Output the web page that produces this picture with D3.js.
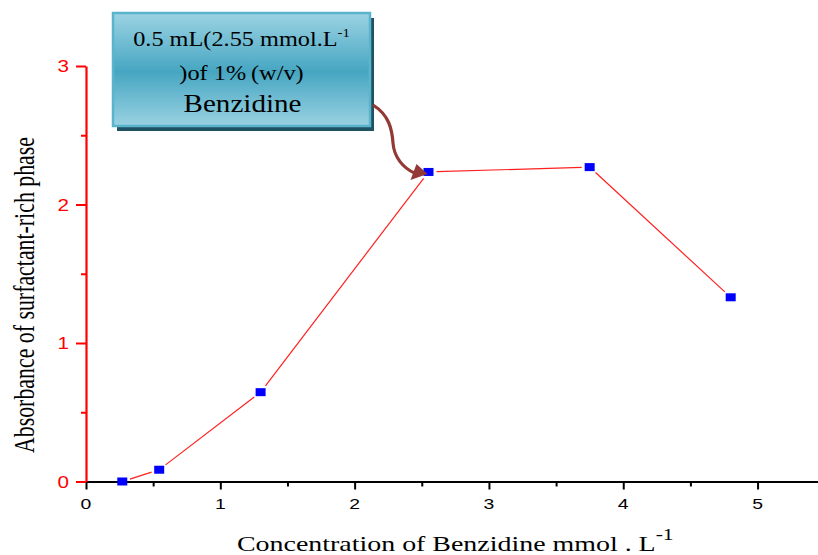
<!DOCTYPE html>
<html>
<head>
<meta charset="utf-8">
<script src="https://cdn.jsdelivr.net/npm/d3@7"></script>
<style>
  html, body { margin: 0; padding: 0; background: #fff; }
  svg { display: block; }
</style>
</head>
<body>
<svg id="chart" width="818" height="555"></svg>
<script>
// Benzidine concentration (mmol/L) vs. absorbance of the surfactant-rich phase
const concentration = [0.27, 0.545, 1.30, 2.55, 3.75, 4.80];
const absorbance    = [0.00, 0.085, 0.645, 2.235, 2.27, 1.33];
const xTicks = [0, 1, 2, 3, 4, 5];
const xMinorTicks = [0.5, 1.5, 2.5, 3.5, 4.5];
const yTicks = [0, 1, 2, 3];
const yMinorTicks = [0.5, 1.5, 2.5];
const calloutLines = ["0.5 mL(2.55 mmol.L", ")of 1%\u2009(w/v)", "Benzidine"];
const highlightIndex = 3;

const svg = d3.select("#chart");
const x = d3.scaleLinear().domain([0, 5.45]).range([86, 818]);
const y = d3.scaleLinear().domain([0, 3]).range([481.5, 66]);

const serif = "'Liberation Serif', 'Times New Roman', serif";
const sans = "'Liberation Sans', Arial, sans-serif";
const stretch = 1.25;

// ---- x axis ----
const gx = svg.append("g").attr("transform", `translate(0,${y(0)})`);
gx.call(d3.axisBottom(x).tickValues(xTicks).tickSize(8).tickSizeOuter(0).tickFormat(""));
gx.call(g => g.select(".domain").attr("stroke", "#000").attr("stroke-width", 2));
gx.selectAll(".tick line").attr("stroke", "#000").attr("stroke-width", 2);
const gxm = svg.append("g").attr("transform", `translate(0,${y(0)})`);
gxm.call(d3.axisBottom(x).tickValues(xMinorTicks).tickSize(5).tickSizeOuter(0).tickFormat(""));
gxm.select(".domain").remove();
gxm.selectAll(".tick line").attr("stroke", "#000").attr("stroke-width", 2);

svg.append("g").selectAll("text").data(xTicks).join("text")
  .attr("transform", d => `translate(${x(d)},${y(0) + 27}) scale(${stretch},1)`)
  .attr("text-anchor", "middle")
  .attr("font-family", sans).attr("font-size", 15.5).attr("fill", "#000")
  .text(d => d);

// ---- y axis ----
const gy = svg.append("g").attr("transform", `translate(${x(0)},0)`);
gy.call(d3.axisLeft(y).tickValues(yTicks).tickSize(10).tickSizeOuter(0).tickFormat(""));
gy.select(".domain").attr("stroke", "#ff0000").attr("stroke-width", 2.2);
gy.selectAll(".tick line").attr("stroke", "#ff0000").attr("stroke-width", 2);
const gym = svg.append("g").attr("transform", `translate(${x(0)},0)`);
gym.call(d3.axisLeft(y).tickValues(yMinorTicks).tickSize(5).tickSizeOuter(0).tickFormat(""));
gym.select(".domain").remove();
gym.selectAll(".tick line").attr("stroke", "#ff0000").attr("stroke-width", 2);

svg.append("g").selectAll("text").data(yTicks).join("text")
  .attr("transform", d => `translate(${x(0) - 17},${y(d) + 6}) scale(${stretch},1)`)
  .attr("text-anchor", "end")
  .attr("font-family", sans).attr("font-size", 16.5).attr("fill", "#ff0000")
  .text(d => d);

// ---- axis titles ----
const xt = svg.append("text")
  .attr("transform", `translate(237,551) scale(1.27,1)`)
  .attr("font-family", serif).attr("font-size", 22).attr("fill", "#000");
xt.append("tspan").text("Concentration of Benzidine mmol . L");
xt.append("tspan").attr("font-size", 17).attr("dy", -11).text("-1");

svg.append("text")
  .attr("transform", `translate(34,295) scale(1.3,1) rotate(-90)`)
  .attr("text-anchor", "middle")
  .attr("font-family", serif).attr("font-size", 22).attr("fill", "#000")
  .attr("textLength", 316).attr("lengthAdjust", "spacingAndGlyphs")
  .text("Absorbance of surfactant-rich phase");

// ---- data line (segments stop short of the markers) ----
const pts = concentration.map((c, i) => [x(c), y(absorbance[i])]);
const gap = 8;
const segs = d3.pairs(pts).map(([a, b]) => {
  const dx = b[0] - a[0], dy = b[1] - a[1];
  const len = Math.hypot(dx, dy);
  const ux = dx / len, uy = dy / len;
  return [[a[0] + ux * gap, a[1] + uy * gap], [b[0] - ux * gap, b[1] - uy * gap]];
});
svg.append("g").selectAll("line").data(segs).join("line")
  .attr("x1", d => d[0][0]).attr("y1", d => d[0][1])
  .attr("x2", d => d[1][0]).attr("y2", d => d[1][1])
  .attr("stroke", "#ff2020").attr("stroke-width", 1.2);

svg.append("g").selectAll("rect").data(pts).join("rect")
  .attr("x", d => d[0] - 5).attr("y", d => d[1] - 4)
  .attr("width", 10).attr("height", 8)
  .attr("fill", "#0000ff");

// ---- callout box ----
const defs = svg.append("defs");
const grad = defs.append("linearGradient").attr("id", "boxFill")
  .attr("x1", 0).attr("y1", 0).attr("x2", 0).attr("y2", 1);
grad.append("stop").attr("offset", "0%").attr("stop-color", "#9cd3e3");
grad.append("stop").attr("offset", "52%").attr("stop-color", "#46a6c2");
grad.append("stop").attr("offset", "100%").attr("stop-color", "#9ad2e2");

const bx = 113, by = 13, bw = 257, bh = 113;
svg.append("rect").attr("x", bx + 4).attr("y", by + 5).attr("width", bw).attr("height", bh)
  .attr("fill", "#1f5263");
svg.append("rect").attr("x", bx).attr("y", by).attr("width", bw).attr("height", bh)
  .attr("fill", "url(#boxFill)").attr("stroke", "#5ab5cc").attr("stroke-width", 2.5);

const bcx = bx + bw / 2;
const l1 = svg.append("text")
  .attr("transform", `translate(${bcx},46) scale(1.13,1)`)
  .attr("text-anchor", "middle")
  .attr("font-family", serif).attr("font-size", 21.5).attr("fill", "#000");
l1.append("tspan").text(calloutLines[0]);
l1.append("tspan").attr("font-size", 13).attr("dy", -9).text("-1");

svg.append("text")
  .attr("transform", `translate(${bcx},80) scale(1.13,1)`)
  .attr("text-anchor", "middle")
  .attr("font-family", serif).attr("font-size", 21.5).attr("fill", "#000")
  .text(calloutLines[1]);

svg.append("text")
  .attr("transform", `translate(${bcx + 1},112) scale(1.12,1)`)
  .attr("text-anchor", "middle")
  .attr("font-family", serif).attr("font-size", 26).attr("fill", "#000")
  .text(calloutLines[2]);

// ---- curved arrow to the highlighted point ----
const [hx, hy] = pts[highlightIndex];
const arrowColor = "#933a36";
const sx = bx + bw + 3, sy = by + 92;
svg.append("path")
  .attr("d", `M${sx},${sy} C${sx + 16},${sy + 10} ${sx + 19},${sy + 24} ${sx + 20},${sy + 38} C${sx + 21},${sy + 52} ${sx + 30},${hy - 4} ${hx - 14},${hy + 1}`)
  .attr("fill", "none").attr("stroke", arrowColor).attr("stroke-width", 3.2);
svg.append("path")
  .attr("d", `M${hx - 1},${hy + 2} L${hx - 18},${hy + 8} L${hx - 12},${hy - 8} Z`)
  .attr("fill", arrowColor);
</script>
</body>
</html>
